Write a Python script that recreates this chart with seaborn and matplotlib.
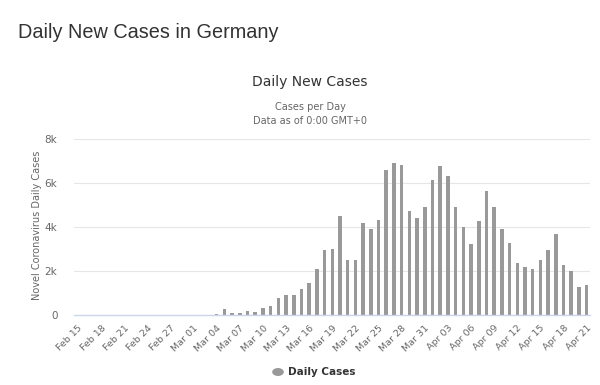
import matplotlib
matplotlib.use("Agg")
import matplotlib.pyplot as plt
import seaborn as sns
import pandas as pd
from datetime import date, timedelta

sns.set_theme(style="white")
plt.rcParams['font.family'] = ['DejaVu Sans']

start = date(2020, 2, 15)
dates = [(start + timedelta(days=i)).strftime("%b %d") for i in range(67)]

daily_cases = [
    0, 0, 0, 0, 0, 0, 0, 0, 0, 0,          # Feb 15 - Feb 24
    2, 6, 5, 10, 11,                       # Feb 25 - Feb 29
    0, 0, 0,                               # Mar 01 - Mar 03
    50, 260, 80, 80, 180, 150, 300, 390,   # Mar 04 - Mar 11
    760, 910, 910, 1170, 1440, 2080, 2950, 2980,  # Mar 12 - Mar 19
    4500, 2480, 2480, 4170, 3900, 4320, 6590, 6890,  # Mar 20 - Mar 27
    6820, 4730, 4420, 4910,                # Mar 28 - Mar 31
    6150, 6790, 6330, 4910, 4000, 3210, 4270, 5640,  # Apr 01 - Apr 08
    4910, 3890, 3260, 2350, 2170, 2090, 2520, 2940,  # Apr 09 - Apr 16
    3670, 2290, 1980, 1270, 1350,          # Apr 17 - Apr 21
]

y_ticks = [0, 2000, 4000, 6000, 8000]
y_tick_labels = ["0", "2k", "4k", "6k", "8k"]

df = pd.DataFrame({"date": dates, "cases": daily_cases})

fig = plt.figure(figsize=(6.0, 3.85), dpi=100)
ax = fig.add_axes([74.1 / 600, 70 / 385, (590.5 - 74.1) / 600, 176 / 385])

sns.barplot(data=df, x="date", y="cases", color="#999999", saturation=1,
            width=0.46, ax=ax, order=dates, linewidth=0, edgecolor="none")

ax.set_xlim(-0.5, len(dates) - 0.5)
ax.set_ylim(0, 8000)
ax.set_yticks(y_ticks)
ax.set_yticklabels(y_tick_labels)
tick_idx = list(range(0, len(dates), 3))
ax.set_xticks(tick_idx)
ax.set_xticklabels([dates[i] for i in tick_idx], rotation=45, ha="right",
                   rotation_mode="anchor")
ax.tick_params(axis="x", length=0, pad=6, labelsize=6.8, labelcolor="#666666")
ax.tick_params(axis="y", length=0, pad=12, labelsize=7.5, labelcolor="#666666")

ax.grid(axis="y", color="#e6e6e6", linewidth=0.8)
ax.set_axisbelow(True)
for side in ["top", "right", "left"]:
    ax.spines[side].set_visible(False)
ax.spines["bottom"].set_color("#ccd6eb")
ax.spines["bottom"].set_linewidth(1)

ax.set_xlabel("")
ax.set_ylabel("")
fig.text(37 / 600, 1 - 225 / 385, "Novel Coronavirus Daily Cases",
         color="#666666", fontsize=7, rotation=90, ha="center", va="center")

fig.text(18 / 600, 1 - 33 / 385, "Daily New Cases in Germany", fontsize=14.3,
         color="#333333", ha="left", va="center", family="Liberation Sans")
fig.text(310 / 600, 1 - 82 / 385, "Daily New Cases", fontsize=10,
         color="#333333", ha="center", va="center")
fig.text(310 / 600, 1 - 107 / 385, "Cases per Day", fontsize=7,
         color="#666666", ha="center", va="center")
fig.text(310 / 600, 1 - 121 / 385, "Data as of 0:00 GMT+0", fontsize=7,
         color="#666666", ha="center", va="center")

fig.patches.append(matplotlib.patches.Circle((278 / 600, 1 - 372 / 385), 0.0085,
                   transform=fig.transFigure, color="#999999", figure=fig))
fig.text(288 / 600, 1 - 372 / 385, "Daily Cases", fontsize=7.5,
         fontweight="bold", color="#333333", ha="left", va="center")

fig.savefig("out.png", dpi=100)
